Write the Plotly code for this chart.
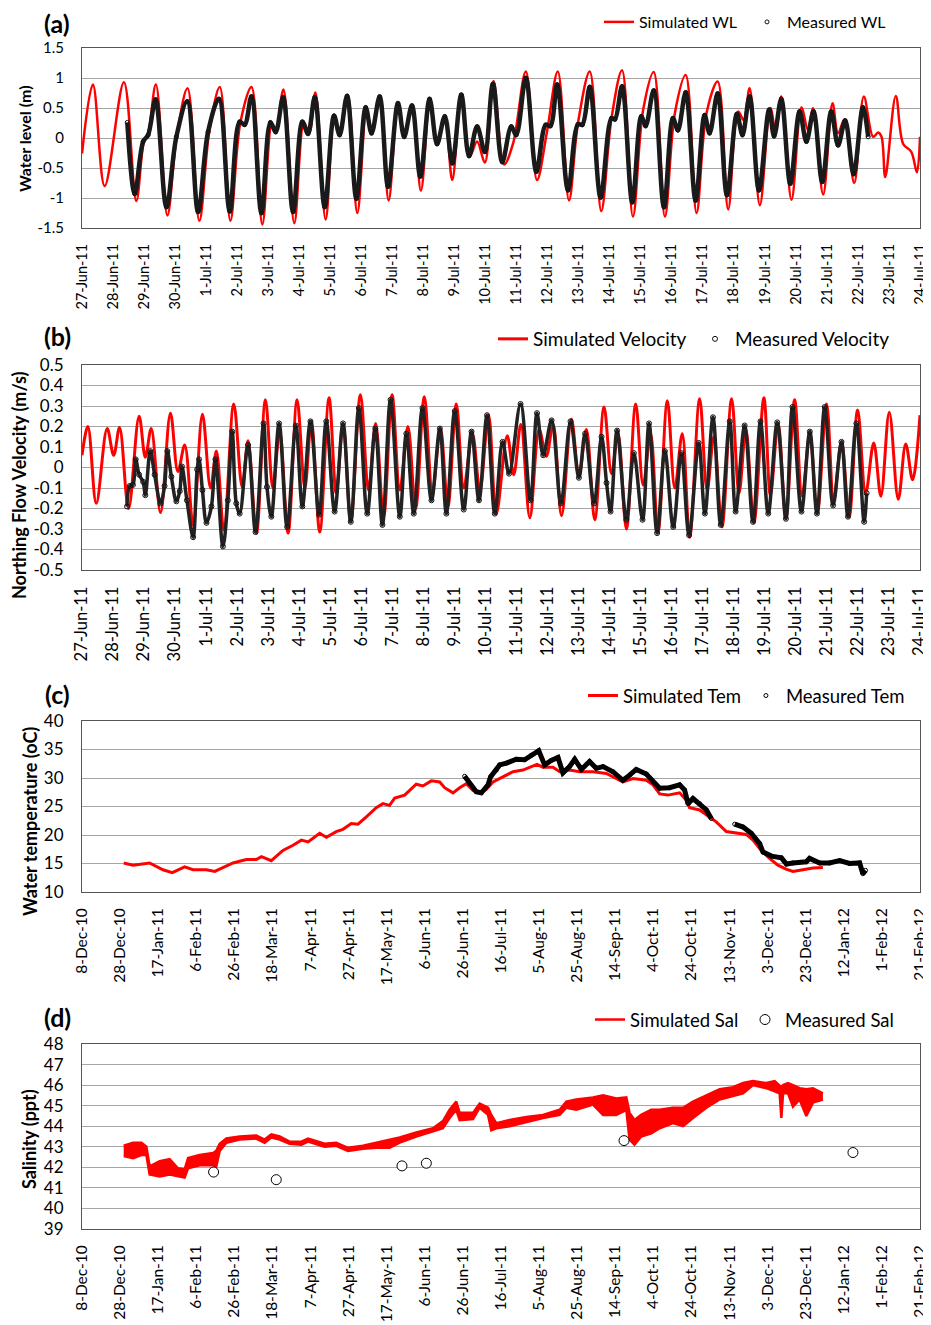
import plotly.graph_objects as go
import pandas as pd

# ---------------- data ----------------
BASE_AB = "2011-06-27"   # day 0 of panels (a) and (b)
BASE_CD = "2010-12-08"   # day 0 of panels (c) and (d)

# (a) water level, m
WL_SIM_DAY = [0.00, 0.35, 0.73, 1.35, 1.75, 2.00, 2.12, 2.38, 2.75, 3.05, 3.40, 3.78, 4.10, 4.44, 4.78, 5.10,
              5.46, 5.81, 6.12, 6.25, 6.49, 6.84, 7.15, 7.32, 7.52, 7.85, 8.13, 8.30, 8.56, 8.87, 9.17, 9.33,
              9.60, 9.88, 10.18, 10.38, 10.64, 10.92, 11.21, 11.44, 11.69, 11.93, 12.22, 12.49, 12.73, 12.98,
              13.26, 13.60, 13.89, 14.30, 14.66, 14.98, 15.33, 15.69, 15.98, 16.36, 16.73, 17.06, 17.40, 17.75,
              18.08, 18.42, 18.78, 19.10, 19.45, 19.80, 20.12, 20.48, 20.82, 21.14, 21.32, 21.51, 21.84, 22.18,
              22.35, 22.53, 22.86, 23.18, 23.39, 23.55, 23.88, 24.18, 24.36, 24.57, 24.88, 25.19, 25.49, 25.65,
              25.76, 25.88, 26.22, 26.46, 26.72, 26.90, 27.00]
WL_SIM_VAL = [-0.26, 0.89, -0.80, 0.93, -1.05, -0.05, 0.05, 0.89, -1.29, 0.02, 0.83, -1.38, 0.10, 0.85, -1.38, 0.25,
              0.85, -1.44, 0.25, 0.12, 0.81, -1.42, 0.26, 0.08, 0.76, -1.36, 0.38, 0.05, 0.72, -1.25, 0.50, 0.08,
              0.69, -1.04, 0.58, 0.02, 0.52, -0.88, 0.64, -0.10, 0.33, -0.70, 0.72, -0.31, -0.06, -0.41,
              0.95, -0.44, -0.09, 1.11, -0.70, 0.10, 1.11, -1.04, 0.25, 1.11, -1.22, 0.33, 1.13, -1.31,
              0.47, 1.10, -1.31, 0.41, 1.05, -1.25, 0.41, 0.94, -1.19, 0.44, 0.30, 0.83, -1.12, 0.50,
              0.11, 0.69, -1.03, 0.51, 0.13, 0.50, -0.94, 0.58, 0.08, 0.31, -0.75, 0.69, 0.02, 0.09,
              0.02, -0.65, 0.70, -0.10, -0.23, -0.57, 0.02]
WL_MEAS_DAY = [1.46, 1.70, 1.97, 2.13, 2.37, 2.72, 3.04, 3.39, 3.74, 4.06, 4.41, 4.76, 5.08, 5.24, 5.46, 5.78,
               6.07, 6.24, 6.48, 6.80, 7.10, 7.28, 7.50, 7.82, 8.12, 8.30, 8.54, 8.84, 9.14, 9.33, 9.59, 9.86,
               10.18, 10.38, 10.63, 10.90, 11.20, 11.44, 11.69, 11.93, 12.22, 12.47, 12.73, 12.98, 13.24, 13.54,
               13.83, 13.99, 14.30, 14.64, 14.94, 15.09, 15.31, 15.66, 15.98, 16.12, 16.36, 16.71, 17.06, 17.17,
               17.40, 17.73, 18.02, 18.16, 18.42, 18.75, 19.04, 19.20, 19.45, 19.77, 20.06, 20.22, 20.48, 20.78,
               21.10, 21.28, 21.51, 21.81, 22.14, 22.30, 22.53, 22.82, 23.12, 23.34, 23.57, 23.85, 24.14, 24.36,
               24.59, 24.86, 25.16, 25.33]
WL_MEAS_VAL = [0.26, -0.93, -0.06, 0.05, 0.64, -1.15, 0.02, 0.61, -1.23, 0.10, 0.65, -1.22, 0.27, 0.22, 0.69, -1.25,
               0.26, 0.10, 0.68, -1.23, 0.27, 0.07, 0.68, -1.15, 0.37, 0.05, 0.70, -1.01, 0.51, 0.08, 0.69, -0.81,
               0.58, 0.02, 0.54, -0.64, 0.65, -0.10, 0.36, -0.42, 0.72, -0.30, 0.19, -0.23, 0.90, -0.40,
               0.19, 0.05, 1.00, -0.56, 0.22, 0.20, 0.89, -0.87, 0.23, 0.22, 0.85, -0.99, 0.33, 0.31,
               0.86, -1.07, 0.36, 0.20, 0.79, -1.15, 0.33, 0.13, 0.76, -1.04, 0.38, 0.08, 0.74, -0.95,
               0.40, 0.05, 0.69, -0.87, 0.47, 0.03, 0.65, -0.76, 0.44, -0.06, 0.44, -0.73, 0.44, -0.12,
               0.29, -0.60, 0.51, 0.02]
WL_TICKS = [-1.5, -1.0, -0.5, 0.0, 0.5, 1.0, 1.5]
WL_TICK_TEXT = ["-1.5", "-1", "-0.5", "0", "0.5", "1", "1.5"]

# (b) northing flow velocity, m/s
VEL_SIM_DAY = [0.00, 0.19, 0.46, 0.81, 1.02, 1.21, 1.50, 1.84, 2.04, 2.23, 2.53, 2.85, 3.09, 3.31, 3.58, 3.88,
               4.14, 4.33, 4.57, 4.89, 5.16, 5.35, 5.62, 5.91, 6.15, 6.37, 6.64, 6.93, 7.18, 7.39, 7.66, 7.96,
               8.19, 8.41, 8.66, 8.97, 9.23, 9.46, 9.72, 9.99, 10.24, 10.50, 10.75, 11.03, 11.29, 11.55, 11.79,
               12.06, 12.30, 12.58, 12.82, 13.10, 13.35, 13.70, 13.91, 14.14, 14.43, 14.73, 14.96, 15.18, 15.45,
               15.77, 16.01, 16.25, 16.52, 16.82, 17.06, 17.27, 17.54, 17.84, 18.08, 18.32, 18.56, 18.86, 19.10,
               19.34, 19.58, 19.90, 20.14, 20.36, 20.62, 20.93, 21.17, 21.39, 21.65, 21.97, 22.18, 22.43, 22.68,
               22.96, 23.20, 23.45, 23.69, 23.99, 24.22, 24.47, 24.72, 24.99, 25.25, 25.51, 25.74, 26.01, 26.30,
               26.54, 26.76, 27.00]
VEL_SIM_VAL = [0.06, 0.20, -0.175, 0.19, 0.06, 0.195, -0.20, 0.25, 0.05, 0.19, -0.22, 0.265, -0.02, 0.11, -0.28, 0.26,
               -0.10, 0.08, -0.305, 0.31, -0.095, 0.13, -0.32, 0.33, -0.10, 0.175, -0.32, 0.33, -0.10, 0.225, -0.315, 0.34,
               -0.125, 0.215, -0.265, 0.355, -0.11, 0.215, -0.24, 0.355, -0.11, 0.20, -0.20, 0.345, -0.12, 0.19, -0.19,
               0.31, -0.10, 0.165, -0.11, 0.255, -0.225, 0.155, -0.035, 0.21, -0.245, 0.185, 0.055, 0.21, -0.235,
               0.235, -0.04, 0.185, -0.255, 0.295, -0.03, 0.165, -0.30, 0.31, -0.085, 0.165, -0.315, 0.325, -0.10,
               0.165, -0.34, 0.335, -0.11, 0.15, -0.29, 0.335, -0.125, 0.185, -0.27, 0.34, -0.135, 0.215, -0.25,
               0.33, -0.14, 0.165, -0.225, 0.31, -0.16, 0.125, -0.24, 0.28, -0.125, 0.12, -0.14, 0.27, -0.155,
               0.115, -0.06, 0.255]
VEL_MEAS_DAY = [1.45, 1.54, 1.64, 1.73, 1.84, 1.97, 2.04, 2.20, 2.34, 2.53, 2.66, 2.75, 2.88, 3.04, 3.15, 3.22,
                3.38, 3.58, 3.71, 3.77, 3.88, 4.01, 4.17, 4.30, 4.54, 4.70, 4.84, 4.97, 5.08, 5.35, 5.59, 5.85,
                5.96, 6.10, 6.35, 6.61, 6.89, 7.10, 7.36, 7.64, 7.87, 8.14, 8.41, 8.66, 8.92, 9.19, 9.45, 9.68,
                9.94, 10.24, 10.45, 10.69, 10.97, 11.26, 11.53, 11.74, 12.01, 12.30, 12.55, 12.79, 13.05, 13.30,
                13.55, 13.76, 14.13, 14.45, 14.66, 14.86, 15.13, 15.43, 15.74, 16.01, 16.21, 16.50, 16.74, 16.90,
                17.03, 17.24, 17.54, 17.78, 18.06, 18.27, 18.53, 18.78, 19.05, 19.31, 19.56, 19.87, 20.07, 20.33,
                20.58, 20.87, 21.06, 21.35, 21.62, 21.86, 22.11, 22.40, 22.68, 22.89, 23.18, 23.45, 23.68, 23.93,
                24.20, 24.47, 24.68, 24.95, 25.20, 25.28]
VEL_MEAS_VAL = [-0.19, -0.09, -0.085, 0.04, -0.035, -0.07, -0.135, 0.08, -0.035, -0.175, -0.09, 0.08, -0.045, -0.165, -0.115, 0.005,
                -0.16, -0.34, -0.01, 0.04, -0.11, -0.27, -0.19, 0.04, -0.385, -0.16, 0.175, -0.175, -0.225, 0.11, -0.315, 0.215,
                -0.095, -0.24, 0.215, -0.29, 0.205, -0.19, 0.225, -0.23, 0.225, -0.215, 0.215, -0.265, 0.29, -0.225, 0.19, -0.28,
                0.33, -0.24, 0.165, -0.225, 0.29, -0.16, 0.19, -0.225, 0.275, -0.205, 0.175, -0.16, 0.255, -0.225,
                0.125, -0.03, 0.31, -0.16, 0.265, 0.06, 0.23, -0.175, 0.225, -0.05, 0.165, -0.175, 0.15, -0.075,
                -0.215, 0.18, -0.255, 0.07, -0.255, 0.215, -0.32, 0.08, -0.29, 0.07, -0.33, 0.12, -0.225, 0.245,
                -0.28, 0.225, -0.215, 0.205, -0.265, 0.225, -0.225, 0.22, -0.25, 0.295, -0.215, 0.175, -0.225, 0.295,
                -0.185, 0.125, -0.24, 0.215, -0.265, -0.125]
VEL_TICKS = [-0.5, -0.4, -0.3, -0.2, -0.1, 0.0, 0.1, 0.2, 0.3, 0.4, 0.5]
VEL_TICK_TEXT = ["-0.5", "-0.4", "-0.3", "-0.2", "-0.1", "0", "0.1", "0.2", "0.3", "0.4", "0.5"]

# (c) water temperature, oC
TEM_SIM_DAY = [21.9, 26.8, 35.5, 42.5, 47.4, 53.9, 58.3, 65.3, 69.7, 74.0, 79.3, 86.3, 91.5, 94.2, 99.4, 105.5,
               110.8, 115.2, 118.7, 124.8, 128.3, 133.5, 137.0, 141.4, 144.9, 149.3, 154.5, 158.0, 161.5, 164.2,
               169.4, 175.5, 179.0, 183.4, 187.8, 190.4, 194.8, 198.3, 201.8, 205.3, 208.8, 212.3, 215.8, 221.0,
               226.3, 231.5, 235.0, 238.9, 242.0, 247.3, 250.8, 256.0, 261.3, 268.3, 275.3, 280.5, 284.0, 289.3,
               296.3, 299.8, 303.3, 307.6, 313.8, 317.3, 319.0, 324.3, 329.5, 333.0, 338.3, 343.5, 348.8, 352.3,
               356.6, 361.0, 365.4, 369.7, 373.3, 378.5, 383.8, 389.0]
TEM_SIM_VAL = [15.1, 14.7, 15.1, 13.9, 13.4, 14.4, 13.9, 13.9, 13.6, 14.3, 15.1, 15.7, 15.7, 16.2, 15.5, 17.3,
               18.2, 19.1, 18.8, 20.3, 19.6, 20.6, 21.0, 22.0, 21.9, 23.2, 24.8, 25.5, 25.2, 26.5,
               27.0, 28.9, 28.6, 29.5, 29.3, 28.3, 27.4, 28.3, 29.0, 27.8, 27.3, 28.0, 29.3, 30.2,
               31.1, 31.4, 31.9, 32.4, 31.9, 31.9, 31.1, 31.4, 31.1, 31.1, 30.8, 29.9, 29.3, 29.9,
               29.6, 28.8, 27.2, 27.0, 27.4, 26.1, 24.8, 24.4, 23.1, 22.3, 20.6, 20.3, 20.1, 19.1,
               17.3, 15.9, 14.7, 14.0, 13.6, 13.9, 14.2, 14.3]
TEM_MEAS_DAY = [200.9, 203.5, 207.0, 209.7, 213.2, 214.5, 217.6, 219.3, 222.8, 228.0, 232.4, 235.9, 239.8, 242.9,
                246.4, 249.9, 252.5, 256.0, 258.7, 262.2, 266.5, 270.0, 273.6, 278.8, 284.0, 287.5, 291.0, 296.3,
                299.8, 303.3, 308.5, 313.8, 316.4, 318.2, 320.8, 324.3, 327.8, 330.4, None,
                342.7, 347.1, 351.4, 355.8, 357.6, 362.0, 367.2, 369.9, 373.3, 380.3, 382.0, 387.3, 392.5, 397.8,
                403.0, 408.3, 410.0, 411.4]
TEM_MEAS_VAL = [30.3, 29.0, 27.6, 27.4, 28.8, 30.2, 31.4, 32.3, 32.6, 33.3, 33.2, 34.0, 34.8, 32.3,
                33.1, 33.6, 30.9, 32.0, 33.3, 31.5, 32.9, 31.7, 32.0, 31.1, 29.6, 30.5, 31.5, 30.7,
                29.3, 28.2, 28.3, 28.8, 27.9, 25.5, 26.4, 25.5, 24.4, 22.9, None,
                21.9, 21.4, 20.3, 18.5, 17.0, 16.3, 16.0, 14.9, 15.1, 15.3, 15.9, 15.1, 15.1, 15.5,
                15.0, 15.1, 13.2, 13.8]

# (d) salinity, ppt (simulated series drawn as its upper / lower envelope)
SAL_SIM_DAY = [21.9, 26.8, 31.2, 33.8, 35.5, 40.8, 46.0, 50.4, 53.9, 55.7, 61.8, 68.8, 70.5, 72.3, 75.8, 82.8,
               91.5, 95.9, 99.4, 103.8, 109.0, 115.2, 118.7, 127.4, 133.5, 139.7, 147.5, 154.5, 161.5, 166.8,
               175.5, 184.3, 189.5, 193.0, 196.5, 198.3, 205.3, 208.8, 213.2, 214.9, 217.5, 224.5, 233.3, 242.0,
               250.8, 254.3, 259.5, 268.3, 273.6, 280.5, 285.8, 287.5, 290.1, 293.6, 298.9, 303.3, 310.3, 315.6,
               320.8, 327.8, 334.8, 341.8, 347.1, 352.3, 359.3, 363.7, 366.3, 367.2, 368.1, 370.7, 373.3, 376.8,
               380.3, 383.8, 389.0]
SAL_SIM_HI = [43.05, 43.2, 43.2, 43.0, 42.05, 42.3, 42.4, 41.95, 41.9, 42.45, 42.6, 42.7, 42.8, 43.15, 43.4, 43.5,
              43.55, 43.35, 43.6, 43.5, 43.25, 43.25, 43.4, 43.15, 43.2, 42.95, 43.05, 43.2, 43.35, 43.45,
              43.7, 43.9, 44.25, 44.8, 45.2, 44.65, 44.65, 45.1, 44.9, 44.55, 44.15, 44.3, 44.45, 44.55,
              44.8, 45.2, 45.3, 45.4, 45.5, 45.35, 45.4, 44.65, 44.3, 44.55, 44.8, 44.8, 44.9, 44.9,
              45.2, 45.5, 45.8, 45.9, 46.1, 46.2, 46.1, 46.2, 46.0, 45.9, 46.0, 46.1, 46.0, 45.85,
              45.8, 45.85, 45.6]
SAL_SIM_LO = [42.55, 42.45, 42.6, 42.6, 41.65, 41.55, 41.65, 41.55, 41.5, 41.95, 42.1, 42.1, 42.05, 42.8, 43.2, 43.35,
              43.4, 43.2, 43.45, 43.35, 43.15, 43.1, 43.25, 43.0, 43.05, 42.8, 42.9, 42.95, 42.95, 43.2,
              43.5, 43.75, 43.9, 44.4, 44.8, 44.3, 44.35, 44.9, 44.55, 43.8, 43.9, 44.0, 44.2, 44.4,
              44.55, 44.9, 44.8, 45.05, 44.55, 44.55, 44.8, 43.35, 43.1, 43.5, 43.65, 43.9, 44.15, 44.0,
              44.4, 44.9, 45.3, 45.45, 45.6, 46.0, 45.85, 45.7, 45.6, 44.4, 45.6, 45.6, 44.95, 45.3,
              44.5, 45.15, 45.3]
SAL_MEAS_DAY = [69.1, 102.0, 168.0, 180.8, 284.6, 404.8]
SAL_MEAS_VAL = [41.77, 41.4, 42.07, 42.2, 43.3, 42.72]


def to_dates(base, days):
    b = pd.Timestamp(base)
    return [None if d is None else b + pd.Timedelta(days=d) for d in days]


# ---------------- layout helpers ----------------
OFF = 8                      # the page body adds an 8 px margin round the figure
W, H = 931 - OFF, 1325 - OFF
PLOT_L, PLOT_R = 82, 920     # plot area edges in page pixels
ML, MR = PLOT_L - OFF, 931 - PLOT_R
PW = W - ML - MR
FONT = "Lato, 'Open Sans', sans-serif"
RED = "#ff0000"


def px_x(p):
    return (p - PLOT_L) / PW


def px_y(p):
    return 1 - (p - OFF) / H


PANELS = {  # top, bottom in page px
    1: (48, 228),
    2: (365, 570),
    3: (721, 892),
    4: (1044, 1229),
}

fig = go.Figure()

# (a)
fig.add_trace(go.Scatter(x=to_dates(BASE_AB, WL_SIM_DAY), y=WL_SIM_VAL, mode="lines", name="Simulated WL",
                         line=dict(color=RED, width=2.5, shape="spline", smoothing=1.0),
                         xaxis="x", yaxis="y", legend="legend"))
fig.add_trace(go.Scatter(x=to_dates(BASE_AB, WL_MEAS_DAY), y=WL_MEAS_VAL, mode="lines", showlegend=False,
                         line=dict(color="#1a1a1a", width=4.5, shape="spline", smoothing=1.0),
                         xaxis="x", yaxis="y"))
fig.add_trace(go.Scatter(x=to_dates(BASE_AB, WL_MEAS_DAY), y=WL_MEAS_VAL, mode="markers", name="Measured WL",
                         marker=dict(symbol="circle-open", size=4, color="#111111", line=dict(width=1)),
                         xaxis="x", yaxis="y", legend="legend"))

# (b)
fig.add_trace(go.Scatter(x=to_dates(BASE_AB, VEL_SIM_DAY), y=VEL_SIM_VAL, mode="lines", name="Simulated Velocity",
                         line=dict(color=RED, width=3, shape="spline", smoothing=1.0),
                         xaxis="x2", yaxis="y2", legend="legend2"))
fig.add_trace(go.Scatter(x=to_dates(BASE_AB, VEL_MEAS_DAY), y=VEL_MEAS_VAL, mode="lines", showlegend=False,
                         line=dict(color="#222222", width=3.5, shape="spline", smoothing=1.0),
                         xaxis="x2", yaxis="y2"))
fig.add_trace(go.Scatter(x=to_dates(BASE_AB, VEL_MEAS_DAY), y=VEL_MEAS_VAL, mode="markers", name="Measured Velocity",
                         marker=dict(symbol="circle-open", size=5, color="#111111", line=dict(width=1)),
                         xaxis="x2", yaxis="y2", legend="legend2"))

# (c)
fig.add_trace(go.Scatter(x=to_dates(BASE_CD, TEM_SIM_DAY), y=TEM_SIM_VAL, mode="lines", name="Simulated Tem",
                         line=dict(color=RED, width=3),
                         xaxis="x3", yaxis="y3", legend="legend3"))
fig.add_trace(go.Scatter(x=to_dates(BASE_CD, TEM_MEAS_DAY), y=TEM_MEAS_VAL, mode="lines", showlegend=False,
                         connectgaps=False, line=dict(color="#000000", width=5),
                         xaxis="x3", yaxis="y3"))
fig.add_trace(go.Scatter(x=to_dates(BASE_CD, TEM_MEAS_DAY), y=TEM_MEAS_VAL, mode="markers", name="Measured Tem",
                         marker=dict(symbol="circle-open", size=4, color="#000000", line=dict(width=1)),
                         xaxis="x3", yaxis="y3", legend="legend3"))

# (d)
fig.add_trace(go.Scatter(x=to_dates(BASE_CD, SAL_SIM_DAY), y=SAL_SIM_LO, mode="lines", name="Simulated Sal",
                         line=dict(color=RED, width=2.5),
                         xaxis="x4", yaxis="y4", legend="legend4"))
fig.add_trace(go.Scatter(x=to_dates(BASE_CD, SAL_SIM_DAY), y=SAL_SIM_HI, mode="lines", showlegend=False,
                         line=dict(color=RED, width=2.5), fill="tonexty", fillcolor=RED,
                         xaxis="x4", yaxis="y4"))
fig.add_trace(go.Scatter(x=to_dates(BASE_CD, SAL_MEAS_DAY), y=SAL_MEAS_VAL, mode="markers", name="Measured Sal",
                         marker=dict(symbol="circle", size=10, color="white", line=dict(width=1, color="#000000")),
                         xaxis="x4", yaxis="y4", legend="legend4"))

AXLINE = "#555555"
GRID = "#a6a6a6"


def xaxis_cfg(anchor, rng, dtick, tick0, fsize):
    return dict(anchor=anchor, type="date", range=rng, dtick=dtick, tick0=tick0, tickformat="%-d-%b-%y",
                tickangle=-90, showgrid=False, showline=True, linecolor=AXLINE, linewidth=1, mirror=True,
                ticks="", ticklabelstandoff=9, tickfont=dict(family=FONT, size=fsize, color="#000000"),
                domain=[0, 1], automargin=False)


def yaxis_cfg(anchor, panel, rng, **kw):
    top, bot = PANELS[panel]
    d = dict(anchor=anchor, range=rng, showgrid=True, gridcolor=GRID, gridwidth=1, zeroline=False,
             showline=True, linecolor=AXLINE, linewidth=1, mirror=True, ticks="", ticklabelstandoff=14,
             domain=[px_y(bot), px_y(top)], automargin=False)
    d.update(kw)
    return d


DAY = 86400000
fig.update_layout(
    width=W, height=H, margin=dict(l=ML, r=MR, t=0, b=0, autoexpand=False),
    paper_bgcolor="white", plot_bgcolor="white",
    font=dict(family=FONT, color="#000000"),
    xaxis=xaxis_cfg("y", ["2011-06-27", "2011-07-24"], DAY, "2011-06-27", 14.5),
    xaxis2=xaxis_cfg("y2", ["2011-06-27", "2011-07-24"], DAY, "2011-06-27", 16.5),
    xaxis3=xaxis_cfg("y3", ["2010-12-08", "2012-02-21"], 20 * DAY, "2010-12-08", 15.5),
    xaxis4=xaxis_cfg("y4", ["2010-12-08", "2012-02-21"], 20 * DAY, "2010-12-08", 15.5),
    yaxis=yaxis_cfg("x", 1, [-1.5, 1.5], tickmode="array", tickvals=WL_TICKS, ticktext=WL_TICK_TEXT,
                    tickfont=dict(family=FONT, size=15)),
    yaxis2=yaxis_cfg("x2", 2, [-0.5, 0.5], tickmode="array", tickvals=VEL_TICKS, ticktext=VEL_TICK_TEXT,
                     tickfont=dict(family=FONT, size=17)),
    yaxis3=yaxis_cfg("x3", 3, [10, 40], dtick=5, tickfont=dict(family=FONT, size=17)),
    yaxis4=yaxis_cfg("x4", 4, [39, 48], dtick=1, tickfont=dict(family=FONT, size=17)),
)

LEG = dict(orientation="h", xanchor="left", yanchor="middle", bgcolor="rgba(0,0,0,0)",
           entrywidthmode="pixels", itemwidth=30, traceorder="normal")
fig.update_layout(
    legend=dict(LEG, x=px_x(599), y=px_y(22), entrywidth=103, font=dict(family=FONT, size=16)),
    legend2=dict(LEG, x=px_x(493), y=px_y(339), entrywidth=157, font=dict(family=FONT, size=19)),
    legend3=dict(LEG, x=px_x(583), y=px_y(696), entrywidth=0, font=dict(family=FONT, size=18.5)),
    legend4=dict(LEG, x=px_x(590), y=px_y(1020), entrywidth=110, font=dict(family=FONT, size=18.5)),
)

# panel letters and y-axis titles
for txt, py in [("(a)", 23), ("(b)", 336), ("(c)", 694), ("(d)", 1017)]:
    fig.add_annotation(text=txt, xref="paper", yref="paper", x=px_x(57), y=px_y(py), showarrow=False,
                       xanchor="center", yanchor="middle", font=dict(family=FONT, size=25, weight="bold"))

for txt, pxx, pyy, fs in [("Water level (m)", 25, 139, 16), ("Northing Flow Velocity (m/s)", 19, 485, 18),
                          ("Water temperature (oC)", 30, 822, 18), ("Salinity (ppt)", 29, 1139, 18)]:
    fig.add_annotation(text=txt, xref="paper", yref="paper", x=px_x(pxx), y=px_y(pyy), showarrow=False,
                       textangle=-90, xanchor="center", yanchor="middle",
                       font=dict(family=FONT, size=fs, weight="bold"))

fig.write_html("out.html")
